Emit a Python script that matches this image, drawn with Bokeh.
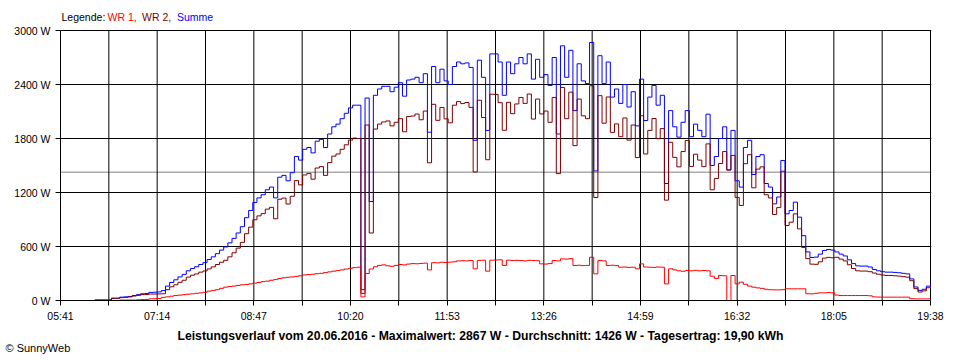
from bokeh.plotting import figure
from bokeh.models import Range1d, FixedTicker, Span, Label, PrintfTickFormatter
from bokeh.embed import file_html
from bokeh.resources import INLINE

# ---------------- data ----------------
START = "06:14"
STEP_MIN = 4

summe = [
    5, 5, 5, 5, 25, 25, 37, 40, 45, 55, 65, 75,
    78, 90, 92, 95, 110,
    160, 200, 230, 262, 290, 330, 355, 375, 400, 420,
    455, 485, 520, 560, 595, 640, 690, 750, 820,
    920, 1000, 1090, 1140, 1175, 1230, 1260, 1140, 1370, 1390,
    1330, 1420, 1600, 1560, 1680, 1700, 1640, 1770, 1790, 1700,
    1850, 1930, 1960, 2020, 2080, 2140, 2170, 2170,
    120, 2250, 1100, 2280, 2350, 2380,
    2380, 2320, 2370, 2420, 2270, 2450, 2460, 2480, 2420, 2520,
    1870, 2600, 2420, 2570, 2440, 2400, 2600, 2650, 2630, 2640,
    2590, 1780, 2670, 2480, 1890, 2740, 2740, 2650, 2280, 2650, 2520, 2630,
    2700, 2630, 2740, 2460, 2680, 2480, 2510, 2390, 2700, 1850,
    2830, 2480, 2780, 2110, 2630, 2440, 2410, 2867, 1440, 2720,
    2410, 2650, 2260, 2350, 2190, 2400, 2150, 2320, 1940, 2460,
    2000, 2260, 2390, 2170, 2280,
    1300, 2110, 1930, 1815, 1980, 2110, 1820, 1960, 1890, 1820,
    2070, 1500, 1600, 1800, 1930, 1450, 1890, 1330, 1260, 1700,
    1780, 1400, 1600, 1620, 1300, 1260, 1074, 1150, 1556, 963,
    1000, 1093, 926,
    720, 540, 478, 482, 515, 556, 567, 560, 540, 515,
    495, 452, 410, 385, 382, 382, 372, 345, 330, 320,
    315, 315, 312, 308, 302, 296, 240, 150, 112, 125, 160, 185,
]

wr1 = [
    0, 0, 0, 0, 0, 0,
    5, 5, 5, 5, 8, 10, 12,
    18, 20, 22, 35, 40, 48, 55, 60, 65, 70,
    74, 80, 85, 92, 104, 112, 120, 135, 148, 155, 160, 168, 174,
    178, 185, 193, 200, 210, 215, 225, 232, 245, 252,
    258, 262, 268, 275, 285, 288, 292, 298, 302, 310,
    318, 326, 332, 340, 350, 358, 365, 370,
    40, 300, 350, 375, 390, 396,
    385, 380, 390, 400, 395, 405, 410, 408, 412, 415,
    340, 420, 418, 425, 422, 426, 430, 440, 442, 440,
    444, 352, 445, 447, 326, 448, 450, 452, 389, 448, 444, 446,
    444, 440, 446, 444, 442, 407, 405, 410, 444, 440,
    463, 460, 465, 389, 392, 388, 390, 481, 296, 444,
    440, 389, 392, 388, 370, 372, 368, 370, 352, 407,
    372, 370, 368, 372, 370,
    185, 352, 340, 330, 325, 333, 330, 335, 330, 333,
    330, 270, 245, 278, 275, 0, 278, 185, 204, 180,
    160, 148, 140, 135, 125, 120, 118, 118, 120, 130,
    130, 130, 130,
    130, 75, 74, 80, 85, 85, 88, 85, 60, 55,
    55, 55, 55, 55, 55, 55, 52, 40, 38, 37,
    37, 37, 37, 37, 37, 37, 20, 18, 18, 18, 18, 18,
]

x_labels = ["05:41", "07:14", "08:47", "10:20", "11:53",
            "13:26", "14:59", "16:32", "18:05", "19:38"]
y_ticks = [0, 600, 1200, 1800, 2400, 3000]
average_w = 1426

legend_parts = ["Legende: ", "WR 1, ", "WR 2, ", "Summe"]
title_text = ("Leistungsverlauf vom 20.06.2016 - Maximalwert: 2867 W - "
              "Durchschnitt: 1426 W - Tagesertrag: 19,90 kWh")
credit_text = "\u00a9 SunnyWeb"

# ---------------- derived ----------------
def to_min(s):
    h, m = s.split(":")
    return int(h) * 60 + int(m)

t0 = to_min(START)
times = [t0 + STEP_MIN * i for i in range(len(summe))]
wr2 = [max(s - a, 0) for s, a in zip(summe, wr1)]

major = [to_min(l) for l in x_labels]
minor = [(a + b) / 2 for a, b in zip(major[:-1], major[1:])]
all_x = sorted(major + minor)
y_top = y_ticks[-1]

# ---------------- layout ----------------
W, H = 960, 360
LEFT, RIGHT, BOTTOM = 60, 29, 60
PLOT_W = 870            # px between first and last time label
PLOT_H = 270            # px between 0 W and top tick
frame_h = H - BOTTOM    # frame reaches the top of the canvas
x_span = major[-1] - major[0]
x_end = major[0] + x_span * (W - LEFT - RIGHT) / PLOT_W
y_end = y_top * frame_h / PLOT_H

FONT = "Liberation Sans"
C_WR1 = "#FF0000"
C_WR2 = "#800000"
C_SUM = "#0000FF"

p = figure(width=W, height=H, output_backend="svg", toolbar_location=None,
           x_range=Range1d(major[0], x_end), y_range=Range1d(0, y_end))
p.min_border_left = LEFT
p.min_border_right = RIGHT
p.min_border_top = 0
p.min_border_bottom = BOTTOM
p.background_fill_color = "white"
p.border_fill_color = "white"
p.outline_line_color = None

# axes
xa = p.xaxis[0]
xa.ticker = FixedTicker(ticks=major, minor_ticks=minor)
xa.major_label_overrides = {m: l for m, l in zip(major, x_labels)}
xa.bounds = (major[0], major[-1])
ya = p.yaxis[0]
ya.ticker = FixedTicker(ticks=y_ticks, minor_ticks=[])
ya.formatter = PrintfTickFormatter(format="%d W")
ya.bounds = (0, y_top)
for ax in (xa, ya):
    ax.axis_line_color = "black"
    ax.major_tick_line_color = "black"
    ax.minor_tick_line_color = "black"
    ax.major_tick_in = 0
    ax.major_tick_out = 5
    ax.minor_tick_in = 0
    ax.minor_tick_out = 5
    ax.major_label_text_font = FONT
    ax.major_label_text_font_size = "10.5px"
    ax.major_label_text_color = "black"
xa.major_label_standoff = 4
ya.major_label_standoff = 5

# grid: horizontal via grid, vertical via segments limited to 0..3000
p.xgrid.visible = False
p.ygrid.ticker = FixedTicker(ticks=y_ticks)
p.ygrid.grid_line_color = "black"
p.ygrid.grid_line_alpha = 1.0
p.ygrid.grid_line_width = 1
p.segment(x0=all_x, y0=[0] * len(all_x), x1=all_x, y1=[y_top] * len(all_x),
          line_color="black", line_width=1)

p.add_layout(Span(location=average_w, dimension="width",
                  line_color="#808080", line_width=1, level="underlay"))

# series
p.step(times, summe, mode="after", line_color=C_SUM, line_width=1)
p.step(times, wr2, mode="after", line_color=C_WR2, line_width=1)
p.step(times, wr1, mode="after", line_color=C_WR1, line_width=1)

# legend text (top, inside the frame)
legend_colors = ["black", C_WR1, C_WR2, C_SUM]
legend_x = [1, 47, 81.5, 116.5]
for txt, col, lx in zip(legend_parts, legend_colors, legend_x):
    p.add_layout(Label(x=lx, y=frame_h - 16.5, x_units="screen", y_units="screen",
                       text=txt, text_color=col, text_font=FONT,
                       text_font_size="10.5px", text_baseline="middle"))

# bottom title and credit (below panel, stacked after the axis)
p.add_layout(Label(x=420, y=3, x_units="screen", y_units="screen",
                   text=title_text, text_color="black", text_font=FONT,
                   text_font_size="12.2px", text_font_style="bold",
                   text_align="center", text_baseline="middle"), "below")
p.add_layout(Label(x=-55, y=2.5, x_units="screen", y_units="screen",
                   text=credit_text, text_color="black", text_font=FONT,
                   text_font_size="11px", text_baseline="middle"), "below")

open("out.html", "w").write(file_html(p, INLINE))
